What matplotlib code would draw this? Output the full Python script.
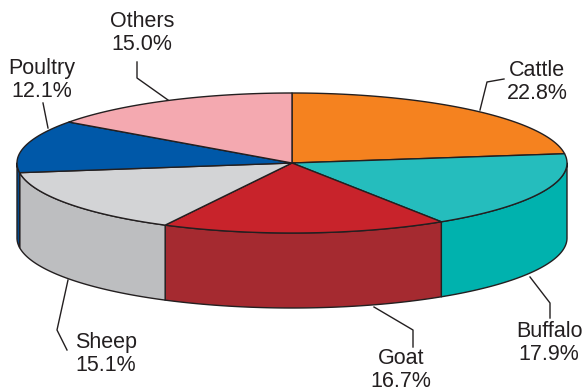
import numpy as np
import matplotlib
matplotlib.use('Agg')
from matplotlib import pyplot as plt
from matplotlib.patches import Polygon

# datos del grafico
categorias = ['Cattle', 'Buffalo', 'Goat', 'Sheep', 'Poultry', 'Others']
porcentajes = [22.8, 17.9, 16.7, 15.1, 12.1, 15.0]
colores_top = ['#F5821F', '#25BDBD', '#C8232B', '#D3D4D6', '#0058A8', '#F4A9B0']
colores_lado = ['#D96F14', '#00B2AE', '#A52A30', '#BDBEC0', '#004A8F', '#D98E95']

# geometria (pixeles)
cx, cy = 292, 163
ra, rb = 275, 70
prof = 75
borde = '#231F20'

# etiquetas: centro del texto y linea guia
pos_texto = [(537, 82), (549, 343), (401, 370), (106, 354), (42, 80), (142, 33)]
guias = [
    [(480, 110), (487, 82), (504, 79)],
    [(530, 277), (550, 303), (550, 318)],
    [(374, 307), (413, 330), (413, 347)],
    [(68, 280), (57, 330), (67, 350)],
    [(48, 128), (43, 103)],
    [(168, 100), (137, 78), (137, 62)],
]


def punto(ang, dy=0):
    t = np.radians(ang)
    return cx + ra * np.cos(t), cy - rb * np.sin(t) + dy


def arco(a1, a2, dy=0, n=80):
    ts = np.linspace(a1, a2, n)
    return [punto(t, dy) for t in ts]


def main():
    fig = plt.figure(figsize=(5.83, 3.92), dpi=100)
    ax = fig.add_axes([0, 0, 1, 1])
    ax.set_xlim(0, 583)
    ax.set_ylim(392, 0)
    ax.axis('off')

    total = sum(porcentajes)
    limites = [90.0]
    for p in porcentajes:
        limites.append(limites[-1] - 360.0 * p / total)

    # paredes laterales (solo la mitad frontal)
    for i in range(len(porcentajes)):
        a_ini, a_fin = limites[i], limites[i + 1]  # a_ini > a_fin
        for k in (-1, 0, 1):
            lo = max(a_fin, -180 + 360 * k)
            hi = min(a_ini, 360 * k)
            if hi <= lo:
                continue
            arriba = arco(hi, lo)
            abajo = arco(lo, hi, dy=prof)
            pared = Polygon(arriba + abajo, closed=True, facecolor=colores_lado[i],
                            edgecolor=borde, lw=1.0, joinstyle='round', zorder=2)
            ax.add_patch(pared)

    # tapa superior
    for i in range(len(porcentajes)):
        a_ini, a_fin = limites[i], limites[i + 1]
        pts = [(cx, cy)] + arco(a_ini, a_fin)
        cuna = Polygon(pts, closed=True, facecolor=colores_top[i],
                       edgecolor=borde, lw=1.0, joinstyle='round', zorder=3)
        ax.add_patch(cuna)

    # etiquetas
    for i, cat in enumerate(categorias):
        x, y = pos_texto[i]
        ax.text(x, y, '%s\n%.1f%%' % (cat, porcentajes[i]), ha='center', va='center',
                fontsize=15.5, color=borde, family='Liberation Sans', linespacing=1.08,
                zorder=5)
        g = np.array(guias[i])
        ax.plot(g[:, 0], g[:, 1], color=borde, lw=1.0, zorder=4)

    plt.savefig('out.png', dpi=100)


if __name__ == "__main__":
    main()
